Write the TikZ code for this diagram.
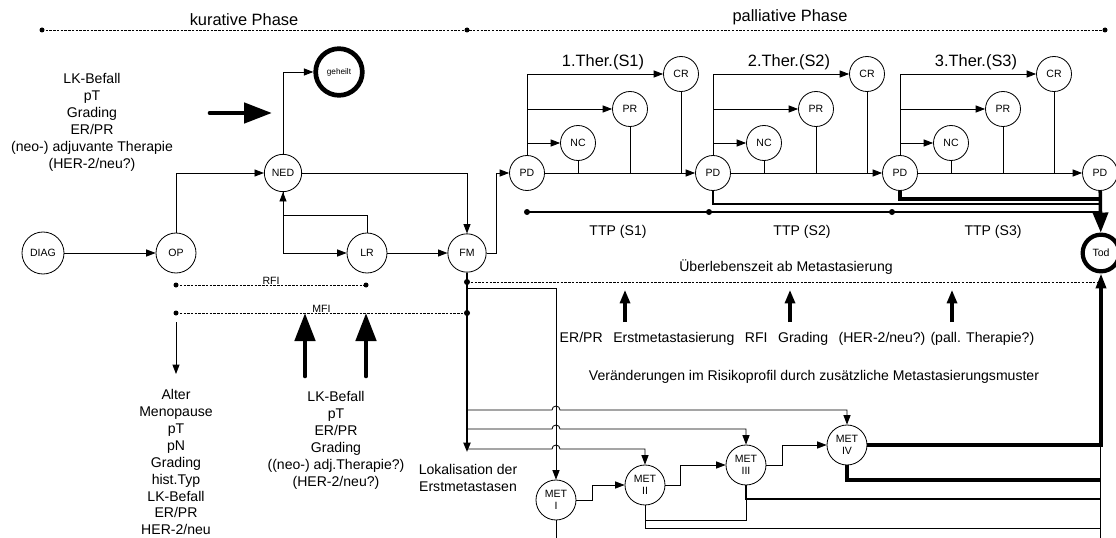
\documentclass[tikz,border=0pt]{standalone}
\usepackage{fontspec}
\setmainfont{Liberation Sans}
\usetikzlibrary{arrows.meta}

\begin{document}
\begin{tikzpicture}
[
  x=0.03cm, y=-0.03cm,
  state/.style={draw, circle, line width=0.7pt, inner sep=0pt, minimum size=1.2cm, align=center, font=\fontsize{9}{10}\selectfont},
  pstate/.style={state, minimum size=1.05cm},
  endstate/.style={state, line width=3.6pt},
  txt/.style={font=\fontsize{12}{14.5}\selectfont, align=center, inner sep=0pt},
  headtxt/.style={font=\fontsize{14}{16}\selectfont, inner sep=0pt},
  smalltxt/.style={font=\fontsize{9}{10}\selectfont, inner sep=0.5pt},
  wire/.style={line width=0.7pt},
  link/.style={wire, -{Triangle[length=8pt,width=6pt]}},
  heavy/.style={line width=3pt},
  dotline/.style={line width=0.6pt, dash pattern=on 2pt off 1.2pt},
  fatarrow/.style={line width=4pt, line cap=round, -{Triangle[length=0.84cm,width=0.6cm]}},
  midarrow/.style={line width=2.6pt, -{Triangle[length=0.4cm,width=0.3cm]}}
]
\useasboundingbox (0,0) rectangle (1116,538);

\node[headtxt] (kur) at (244,20) {kurative Phase};
\node[headtxt] (pal) at (790,17) {palliative Phase};
\coordinate (p0) at (42,30);
\coordinate (p1) at (467,30);
\coordinate (p2) at (1105,30);
\draw[dotline] (p0) -- (p1) -- (p2);
\foreach \p in {p0,p1,p2} \fill (\p) circle (2.5);

\node[state, minimum size=1.26cm] (diag) at (43,253) {DIAG};
\node[state] (op) at (176,253) {OP};
\node[state, minimum size=1.12cm] (ned) at (283,173) {NED};
\node[state] (lr) at (367,253) {LR};
\node[state, minimum size=1.15cm] (fm) at (467,253) {FM};
\node[endstate, minimum size=1.4cm, line width=4pt, font=\fontsize{7}{8}\selectfont] (heal) at (339,72) {geheilt};

\draw[link] (diag) -- (op);
\draw[link] (op.north) |- (ned);
\draw[link] (ned.north) |- (heal);
\draw[link] (ned.east) -| (fm.north);
\draw[link] (ned.south) |- (lr);
\draw[link] (lr.north) -- ++(0,-17) -| (ned.south);
\draw[link] (lr) -- (fm);

\node[txt] (risk) at (92,122) {LK-Befall\\pT\\Grading\\ER/PR\\(neo-) adjuvante Therapie\\(HER-2/neu?)};
\coordinate (ra) at (210,113);
\coordinate (rb) at (272,113);
\draw[fatarrow] (ra) -- (rb);

\coordinate (rfi0) at (176,285);
\coordinate (rfi1) at (366,285);
\coordinate (mfi0) at (176,313);
\coordinate (mfi1) at (467,313);
\draw[dotline] (rfi0) -- node[smalltxt, above] (rfi) {RFI} (rfi1);
\draw[dotline] (mfi0) -- node[smalltxt, above] (mfi) {MFI} (mfi1);
\foreach \p in {rfi0,rfi1,mfi0,mfi1} \fill (\p) circle (2.5);
\draw[link] (mfi0) ++(0,9) -- ++(0,52);
\coordinate (f1) at (305,313);
\coordinate (f2) at (366,313);
\draw[fatarrow] (f1) ++(0,63) -- (f1);
\draw[fatarrow] (f2) ++(0,63) -- (f2);

\node[txt] (alter) at (176,462) {Alter\\Menopause\\pT\\pN\\Grading\\hist.Typ\\LK-Befall\\ER/PR\\HER-2/neu};
\node[txt] (lk) at (336,440) {LK-Befall\\pT\\ER/PR\\Grading\\((neo-) adj.Therapie?)\\(HER-2/neu?)};
\node[txt] (lok) at (468,478) {Lokalisation der\\Erstmetastasen};

\foreach \i/\x in {1/527,2/713,3/900,4/1100} \node[pstate] (pd\i) at (\x,173) {PD};
\node[endstate, minimum size=1.1cm] (tod) at (1101,253) {Tod};
\draw[link] (fm.east) -- ++(10,0) |- (pd1);
\foreach \i/\x in {1/527,2/713,3/900}
{
  \pgfmathtruncatemacro\j{\i+1}
  \node[pstate] (nc\i) at (\x+51,143) {NC};
  \node[pstate] (pr\i) at (\x+103,109) {PR};
  \node[pstate] (cr\i) at (\x+154,74) {CR};
  \node[headtxt] (ther\i) at (\x+76,62) {\i.Ther.(S\i)};
  \draw[link] (pd\i.north) |- (cr\i);
  \draw[link] (pd\i.north |- pr\i) -- (pr\i);
  \draw[link] (pd\i.north |- nc\i) -- (nc\i);
  \draw[link] (pd\i) -- (pd\j);
  \foreach \n in {nc,pr,cr} \draw[wire] (\n\i.south) -- (\n\i.south |- pd\i);
}

\coordinate (e2) at (1100,204);
\coordinate (e3) at (1100,199);
\draw[line width=1.6pt] (pd2.south) |- (e2);
\draw[heavy] (pd3.south) |- (e3);
\draw[heavy, -{Triangle[length=0.6cm,width=0.45cm]}] (pd4) -- (tod);

\coordinate (t1) at (527,212);
\coordinate (t2) at (709,212);
\coordinate (t3) at (892,212);
\coordinate (t4) at (1100,212);
\draw[line width=1.4pt] (t1) -- (t4);
\foreach \t in {t1,t2,t3} \fill (\t) circle (3);
\node[txt] (ttp1) at (618,232) {TTP (S1)};
\node[txt] (ttp2) at (802,232) {TTP (S2)};
\node[txt] (ttp3) at (993,232) {TTP (S3)};

\coordinate (s0) at (467,282);
\coordinate (s1) at (1100,282);
\coordinate (fmend) at (467,452);
\draw[dotline] (s0) -- (s1);
\node[txt] (surv) at (786,267) {Überlebenszeit ab Metastasierung};
\draw[line width=1.6pt, -{Triangle[length=8pt,width=6pt]}] (fm) -- (fmend);
\fill (s0) circle (3);
\fill (mfi1) circle (3);

\node[txt] (factors) at (797,339) {ER/PR\hspace{9pt}Erstmetastasierung\hspace{9pt}RFI\hspace{9pt}Grading\hspace{9pt}(HER-2/neu?) (pall. Therapie?)};
\foreach \x in {625,790,952} \draw[midarrow] (\x,322) -- (\x,290);
\node[txt] (change) at (814,377) {Veränderungen im Risikoprofil durch zusätzliche Metastasierungsmuster};

\node[state] (met1) at (556,500) {MET\\I};
\node[state] (met2) at (645,485) {MET\\II};
\node[state] (met3) at (746,465) {MET\\III};
\node[state] (met4) at (847,445) {MET\\IV};

\coordinate (h1) at (467,288);
\draw[link] (h1) -| (met1);
\foreach \y/\m in {410/met4,429/met3,449/met2}
  \draw[link] (467,\y) -- (552,\y) arc (180:360:4) -| (\m);
\draw[link] (met1.east) -- ++(16,0) |- (met2);
\draw[link] (met2.east) -- ++(15,0) |- (met3);
\draw[link] (met3.east) -- ++(16,0) |- (met4);

\coordinate (c0) at (1100,445);
\coordinate (c1) at (1100,480);
\coordinate (c2) at (1100,499);
\coordinate (c3) at (1100,528);
\coordinate (c4) at (1100,538);
\coordinate (c5) at (556,538);
\draw[heavy, -{Triangle[length=0.45cm,width=0.3cm]}] (met4.east) -| (tod.south);
\draw[heavy] (met4.south) |- (c1);
\draw[line width=1.3pt] (met3.south) |- (c2);
\draw[wire] (met3.south) -- (746,520) -| (met2.south);
\draw[wire] (met2.south) |- (c3);
\draw[wire] (met1.south) -- (c5);
\draw[wire] (c0) -- (c4);
\end{tikzpicture}
\end{document}
